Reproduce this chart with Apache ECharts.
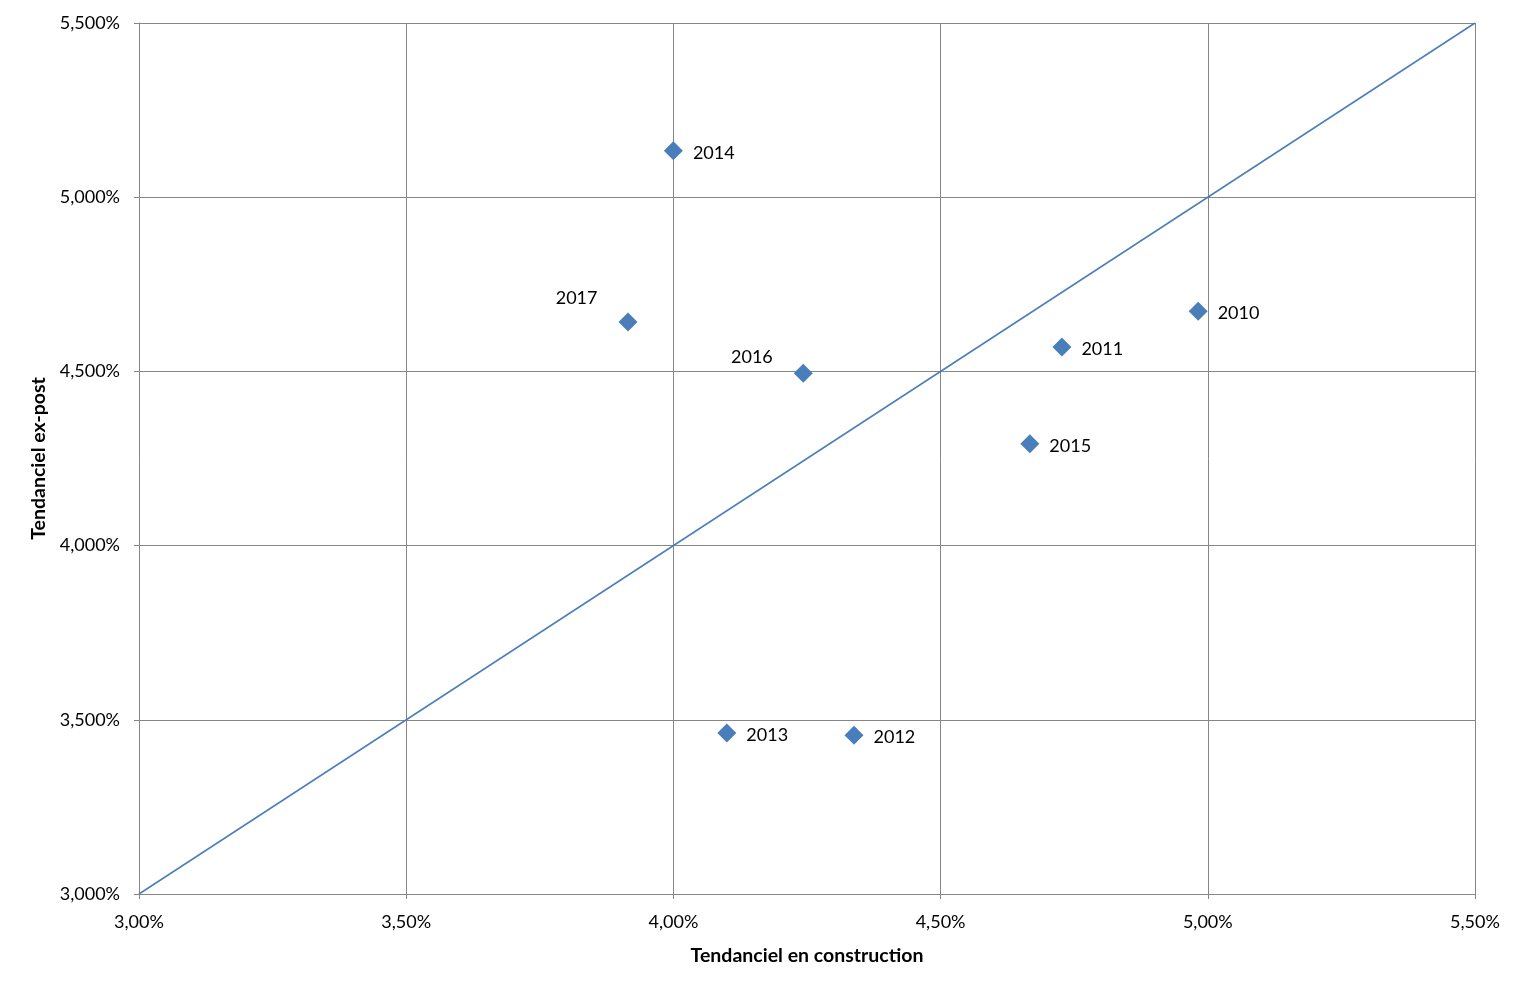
<!DOCTYPE html>
<html>
<head>
<meta charset="utf-8">
<script src="https://cdn.jsdelivr.net/npm/echarts@6/dist/echarts.min.js"></script>
<style>html,body{margin:0;padding:0;background:#fff;}#c{width:1524px;height:992px;}</style>
</head>
<body>
<div id="c"></div>
<script>
const years = ['2010','2011','2012','2013','2014','2015','2016','2017'];
const construction = [4.982, 4.727, 4.338, 4.100, 4.000, 4.667, 4.243, 3.915];
const expost = [4.673, 4.570, 3.456, 3.462, 5.133, 4.292, 4.495, 4.642];
const leftLabelled = ['2016','2017'];
const diagonal = [[3.0, 3.0], [5.5, 5.5]];

const FONT = 'Lato, "Open Sans", sans-serif';
const C = '#4a7ebb';
const GRIDC = '#868686';

const points = years.map((y, i) => {
  const d = { value: [construction[i], expost[i]], name: y };
  if (leftLabelled.includes(y)) {
    d.label = { position: 'left', distance: 21, offset: [0, y === '2017' ? -24 : -16] };
  }
  return d;
});

const chart = echarts.init(document.getElementById('c'), null, { renderer: 'canvas' });
chart.setOption({
  animation: false,
  backgroundColor: '#fff',
  textStyle: { fontFamily: FONT },
  grid: { left: 139, right: 49, top: 23, bottom: 98 },
  xAxis: {
    type: 'value', min: 3.0, max: 5.5, interval: 0.5,
    name: 'Tendanciel en construction', nameLocation: 'middle', nameGap: 52,
    nameTextStyle: { fontFamily: FONT, fontSize: 19.5, fontWeight: 'bold', color: '#000' },
    axisLine: { show: true, lineStyle: { color: GRIDC, width: 1 } },
    axisTick: { show: true, length: 5, lineStyle: { color: GRIDC } },
    splitLine: { show: true, lineStyle: { color: GRIDC, width: 1 } },
    axisLabel: { margin: 19, fontSize: 18, color: '#000', fontFamily: FONT,
      formatter: v => v.toFixed(2).replace('.', ',') + '%' }
  },
  yAxis: {
    type: 'value', min: 3.0, max: 5.5, interval: 0.5,
    name: 'Tendanciel ex-post', nameLocation: 'middle', nameGap: 89, nameRotate: 90,
    nameTextStyle: { fontFamily: FONT, fontSize: 19.5, fontWeight: 'bold', color: '#000' },
    axisLine: { show: true, lineStyle: { color: GRIDC, width: 1 } },
    axisTick: { show: true, length: 5, lineStyle: { color: GRIDC } },
    splitLine: { show: true, lineStyle: { color: GRIDC, width: 1 } },
    axisLabel: { margin: 19, fontSize: 18, color: '#000', fontFamily: FONT,
      formatter: v => v.toFixed(3).replace('.', ',') + '%' }
  },
  series: [
    {
      type: 'line', data: diagonal, showSymbol: false, symbol: 'none',
      lineStyle: { color: C, width: 1.5 }, silent: true, z: 2
    },
    {
      type: 'scatter', data: points, symbol: 'diamond', symbolSize: 19,
      itemStyle: { color: C, opacity: 1 }, z: 3,
      label: { show: true, position: 'right', distance: 10, offset: [0, 2], formatter: p => p.name,
        fontSize: 18, color: '#000', fontFamily: FONT }
    }
  ]
});
</script>
</body>
</html>
